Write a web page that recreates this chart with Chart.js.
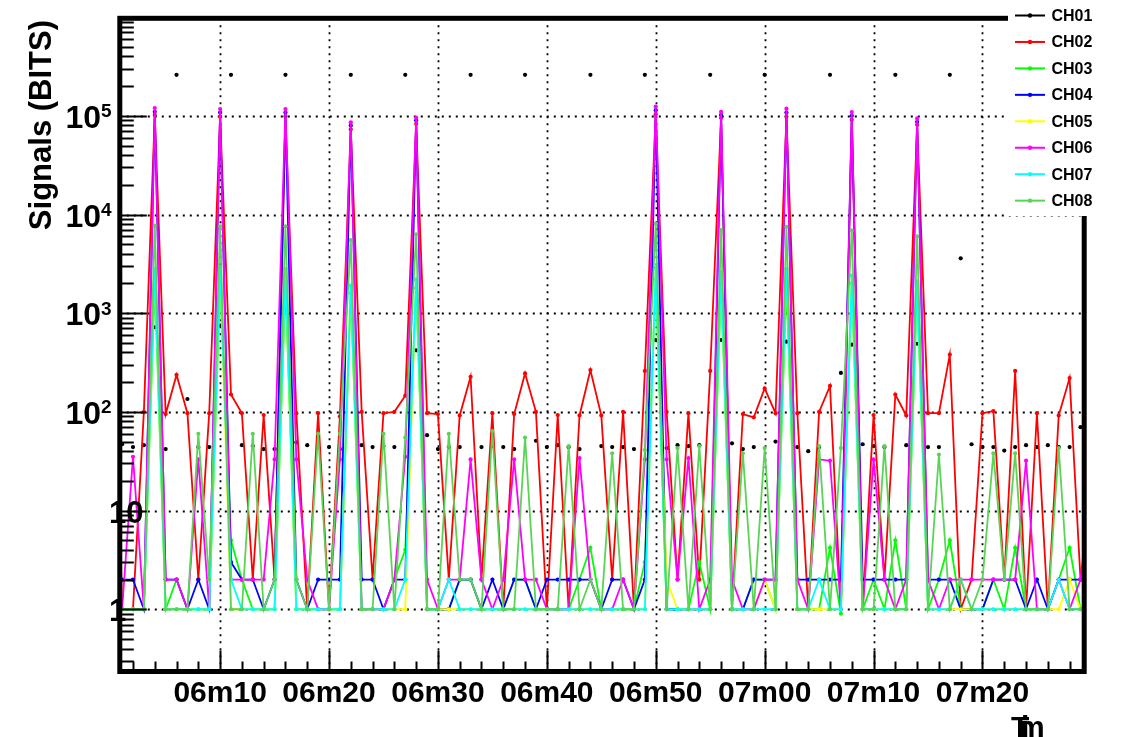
<!DOCTYPE html>
<html lang="en">

<head>
    <meta charset="UTF-8">
    <title>Signals (BITS)</title>
    <style>
        body { margin: 0; background: #ffffff; }
        #wrap { width: 1121px; height: 737px; }
    </style>
</head>

<body>

    <div id="wrap">
        <canvas id="myChart"></canvas>
    </div>

    <script src="https://cdn.jsdelivr.net/npm/chart.js"></script>
    <script>
        // minute of the day for each reading (360 = 06h00)
        const minutes = [360,
            361, 362, 363, 364, 365, 366, 367, 368, 369, 370,
            371, 372, 373, 374, 375, 376, 377, 378, 379, 380,
            381, 382, 383, 384, 385, 386, 387, 388, 389, 390,
            391, 392, 393, 394, 395, 396, 397, 398, 399, 400,
            401, 402, 403, 404, 405, 406, 407, 408, 409, 410,
            411, 412, 413, 414, 415, 416, 417, 418, 419, 420,
            421, 422, 423, 424, 425, 426, 427, 428, 429, 430,
            431, 432, 433, 434, 435, 436, 437, 438, 439, 440,
            441, 442, 443, 444, 445, 446, 447, 448, 449,
            450];

        const ch01 = [null,
            47, 44, 46, 720, 42, 2.6e5, 135, 44, 44, 750,
            2.6e5, 46, 45, 42, 42, 2.6e5, 49, 46, 44, 44,
            42, 2.6e5, 46, 44, 45, 44, 2.6e5, 420, 58, 42,
            44, 44, 2.6e5, 44, 45, 44, 42, 2.6e5, 51, 44,
            46, 44, 42, 2.6e5, 45, 44, 44, 42, 2.6e5, 535,
            43, 46, 45, 46, 2.6e5, 535, 48, 42, 44, 2.6e5,
            50, 515, 44, 40, 44, 2.6e5, 248, 480, 47, 45,
            44, 2.6e5, 46, 490, 44, 44, 2.6e5, 3600, 47, 44,
            44, 40.5, 44, 46, 44, 46, 44, 44, 70,
            null];

        const ch02 = [2e4,
            1, 1, 100, 1.02e5, 95, 237, 97, 2, 97, 9.8e4,
            150, 97, 2, 93, 2, 9.9e4, 97, 1, 97, 1,
            90, 7.3e4, 100, 2, 97, 100, 146, 8.3e4, 97, 95,
            2, 92, 227, 2, 97, 1, 95, 245, 100, 1,
            93, 1, 92, 265, 92, 2, 100, 1, 260, 1.04e5,
            100, 2, 97, 2, 260, 9.5e4, 1, 95, 88, 173,
            97, 9.8e4, 97, 1, 100, 183, 1, 9.1e4, 1, 93,
            2, 150, 92, 8.1e4, 97, 97, 380, 1, 2, 97,
            102, 2, 260, 1, 97, 1, 92, 220, 2,
            null];

        const ch03 = [10,
            1, 1, 1, 2000, 1, 2, 1, 1, 1, 2000,
            5, 2, 1, 1, 1, 2000, 1, 1, 1, 1,
            1, 1600, 1, 1, 1, 2, 4, 1800, 1, 1,
            1, 2, 2, 1, 1, 1, 2, 2, 1, 1,
            1, 1, 2, 4.2, 1, 1, 1, 1, 3, 2200,
            1, 1, 1, 3, 1, 2000, 1, 1, 2, 2,
            1, 2000, 1, 1, 1, 4.2, 0.9, 2000, 1, 2,
            1, 5, 1, 1800, 1, 2, 5, 1, 1, 1,
            2, 1, 4.2, 1, 1, 1, 2, 4.2, 1,
            null];

        const ch04 = [null,
            2, 2, 1, 1.1e5, 2, 2, 1, 2, 1, 1.08e5,
            3, 2, 2, 1, 2, 1.08e5, 2, 1, 2, 2,
            2, 8e4, 2, 2, 1, 2, 2, 9e4, 1, 1,
            1, 2, 2, 1, 2, 1, 2, 2, 1, 2,
            2, 2, 2, 2, 1, 2, 2, 1, 2, 1.14e5,
            1, 1, 1, 1, 1, 1.02e5, 1, 1, 2, 2,
            2, 1.08e5, 2, 2, 2, 2, 2, 1e5, 2, 2,
            2, 2, 2, 8.7e4, 2, 2, 2, 1, 1, 1,
            2, 2, 2, 1, 2, 1, 2, 2, 2,
            null];

        const ch05 = [null,
            1, 1, 1, 2800, 1, 1, 1, 1, 1, 2900,
            1, 1, 1, 1, 1, 2800, 1, 1, 1, 1,
            1, 1900, 1, 1, 1, 1, 1, 2200, 1, 1,
            1, 1, 1, 1, 1, 1, 1, 1, 1, 1,
            1, 1, 1, 1, 1, 1, 1, 1, 1, 2900,
            2, 1, 1, 1, 1, 2600, 1, 1, 1, 2,
            1, 2800, 1, 1, 1, 1, 1, 2400, 1, 1,
            1, 1, 1, 2100, 1, 1, 1, 1, 1, 1,
            1, 1, 1, 1, 1, 1, 1, 2, 1,
            null];

        const ch06 = [null,
            1, 35, 1, 1.2e5, 2, 2, 1, 33, 1, 1.17e5,
            2, 2, 2, 2, 33, 1.17e5, 33, 2, 1, 1,
            33, 8.6e4, 1, 1, 1, 2, 35, 9.6e4, 2, 1,
            2, 2, 33, 2, 1, 2, 33, 2, 2, 1,
            1, 1, 34, 2, 1, 1, 2, 1, 33, 1.24e5,
            33, 2, 34, 1, 2, 1.1e5, 2, 1, 1, 2,
            2, 1.18e5, 2, 1, 33, 32, 1, 1.09e5, 1, 33,
            2, 1, 2, 9.4e4, 2, 1, 2, 2, 2, 2,
            2, 2, 2, 32, 1, 1, 2, 1, 2,
            20];

        const ch07 = [null,
            1, 1, 1, 2800, 1, 1, 1, 1, 1, 2900,
            2, 1, 1, 1, 1, 2800, 1, 1, 1, 1,
            1, 1900, 1, 1, 1, 1, 2, 2200, 1, 1,
            2, 1, 1, 1, 1, 1, 1, 1, 1, 1,
            1, 1, 1, 1, 1, 1, 1, 1, 1, 2900,
            1, 1, 1, 1, 1, 2600, 1, 1, 1, 1,
            1, 2800, 1, 1, 2, 1, 1, 2400, 1, 1,
            1, 1, 1, 2100, 1, 1, 1, 2, 1, 1,
            1, 1, 1, 1, 1, 1, 2, 1, 1,
            null];

        const ch08 = [null,
            1, 1, 1, 7700, 1, 1, 1, 60, 2, 7600,
            1, 1, 60, 1, 2, 7600, 2, 1, 60, 1,
            60, 5500, 1, 1, 60, 1, 55, 6300, 1, 1,
            60, 2, 2, 1, 64, 1, 1, 55, 1, 1,
            1, 45, 1, 2, 1, 38, 1, 1, 41, 8100,
            1, 43, 1, 45, 1, 7000, 1, 38, 1, 43,
            1, 7500, 1, 1, 45, 1, 43, 6900, 1, 1,
            45, 1, 1, 6000, 1, 37, 1, 2, 1, 2,
            38, 2, 38, 1, 1, 1, 43, 1, 1,
            null];

        const v_channels = ['CH01', 'CH02', 'CH03', 'CH04', 'CH05', 'CH06', 'CH07', 'CH08'];
        const v_series = [ch01, ch02, ch03, ch04, ch05, ch06, ch07, ch08];
        const v_colors = ['#000000', '#ff0000', '#00ff00', '#0000ff', '#ffff00', '#ff00ff', '#00ffff', '#59d454'];

        // labelled time ticks and decade ticks
        const timeTicks = [370, 380, 390, 400, 410, 420, 430, 440];
        const decadeTicks = [1, 10, 100, 1000, 10000, 100000];

        const FONT = '"Liberation Sans", Arial, sans-serif';

        function f_timeLabel(m) {
            let h = Math.floor(m / 60);
            let mm = m % 60;
            return String(h).padStart(2, '0') + 'm' + String(mm).padStart(2, '0');
        }

        let v_datasets = [];
        for (let i = 0; i < v_series.length; i++) {
            let v_points = [];
            for (let k = 0; k < minutes.length; k++) {
                v_points.push({ x: minutes[k], y: v_series[i][k] });
            }
            v_datasets.push({
                label: v_channels[i],
                data: v_points,
                borderColor: v_colors[i],
                backgroundColor: v_colors[i],
                pointBackgroundColor: v_colors[i],
                borderWidth: 1.8,
                pointRadius: 2.1,
                pointBorderWidth: 0,
                showLine: i != 0,
                order: v_series.length - i   // CH08 ends up on top
            });
        }

        // axes, frame, grid and legend drawn in the old ROOT canvas style
        const rootStyle = {
            id: 'rootStyle',
            beforeDatasetsDraw(chart) {
                const ctx = chart.ctx;
                const a = chart.chartArea;
                const xs = chart.scales.x;
                const ys = chart.scales.y;
                ctx.save();
                ctx.strokeStyle = '#000';
                ctx.lineWidth = 1.8;
                ctx.setLineDash([2, 5]);
                for (const v of decadeTicks) {
                    const y = Math.round(ys.getPixelForValue(v)) + 0.5;
                    ctx.beginPath();
                    ctx.moveTo(a.left, y);
                    ctx.lineTo(a.right, y);
                    ctx.stroke();
                }
                for (const m of timeTicks) {
                    const x = Math.round(xs.getPixelForValue(m)) + 0.5;
                    ctx.beginPath();
                    ctx.moveTo(x, a.top);
                    ctx.lineTo(x, a.bottom);
                    ctx.stroke();
                }
                ctx.restore();
            },
            afterDatasetsDraw(chart) {
                const ctx = chart.ctx;
                const a = chart.chartArea;
                const xs = chart.scales.x;
                const ys = chart.scales.y;
                ctx.save();
                ctx.fillStyle = '#000';

                // "1" and "10" sit half under the frame
                ctx.font = 'bold 31px ' + FONT;
                ctx.textAlign = 'left';
                ctx.textBaseline = 'alphabetic';
                ctx.fillText('1', 109, ys.getPixelForValue(1) + 12);
                ctx.fillText('10', 109, ys.getPixelForValue(10) + 12);

                // frame
                ctx.strokeStyle = '#000';
                ctx.lineWidth = 5;
                ctx.strokeRect(a.left, a.top, a.right - a.left, a.bottom - a.top);

                // y ticks (log, inward)
                ctx.lineWidth = 2;
                for (let n = -1; n <= 5; n++) {
                    for (let d = 1; d <= 9; d++) {
                        const v = d * Math.pow(10, n);
                        if (v < ys.min || v > ys.max) continue;
                        const y = Math.round(ys.getPixelForValue(v)) + 0.5;
                        const len = d == 1 ? 27 : 14;
                        ctx.beginPath();
                        ctx.moveTo(a.left, y);
                        ctx.lineTo(a.left + len, y);
                        ctx.stroke();
                    }
                }
                // x ticks every 2 minutes, long every 10
                for (let m = 362; m <= 448; m += 2) {
                    const x = Math.round(xs.getPixelForValue(m)) + 0.5;
                    const len = m % 10 == 0 ? 21 : 10;
                    ctx.beginPath();
                    ctx.moveTo(x, a.bottom);
                    ctx.lineTo(x, a.bottom - len);
                    ctx.stroke();
                }

                // decade labels 10^2 .. 10^5
                for (let n = 2; n <= 5; n++) {
                    const y = ys.getPixelForValue(Math.pow(10, n));
                    ctx.font = 'bold 32px ' + FONT;
                    ctx.textAlign = 'right';
                    ctx.fillText('10', 101, y + 12);
                    ctx.font = 'bold 19px ' + FONT;
                    ctx.textAlign = 'left';
                    ctx.fillText(String(n), 101, y + 1.5);
                }

                // time labels
                ctx.font = 'bold 30px ' + FONT;
                ctx.textAlign = 'center';
                for (const m of timeTicks) {
                    ctx.fillText(f_timeLabel(m), xs.getPixelForValue(m), 702);
                }

                // axis titles
                ctx.save();
                ctx.translate(51, 20);
                ctx.rotate(-Math.PI / 2);
                ctx.font = 'bold 31px ' + FONT;
                ctx.textAlign = 'right';
                ctx.fillText('Signals (BITS)', 0, 0);
                ctx.restore();

                ctx.font = 'bold 30px ' + FONT;
                ctx.textAlign = 'left';
                ctx.fillText('T', 1011, 737);
                ctx.fillText('i', 1021, 737);
                ctx.fillText('m', 1018, 737);

                // legend box
                ctx.fillStyle = '#fff';
                ctx.fillRect(1008, 0, 113, 216);
                ctx.font = 'bold 16px ' + FONT;
                ctx.textBaseline = 'middle';
                ctx.lineWidth = 2;
                for (let i = 0; i < v_channels.length; i++) {
                    const y = 15.5 + 26.45 * i;
                    ctx.strokeStyle = v_colors[i];
                    ctx.beginPath();
                    ctx.moveTo(1015, y);
                    ctx.lineTo(1045, y);
                    ctx.stroke();
                    ctx.fillStyle = v_colors[i];
                    ctx.beginPath();
                    ctx.arc(1030, y, 2.2, 0, Math.PI * 2);
                    ctx.fill();
                    ctx.fillStyle = '#000';
                    ctx.fillText(v_channels[i], 1051.5, y + 1);
                }
                ctx.restore();
            }
        };

        const ctx = document.querySelector('#myChart');

        new Chart(ctx, {
            type: 'line',
            data: { datasets: v_datasets },
            options: {
                responsive: true,
                maintainAspectRatio: false,
                animation: false,
                layout: { padding: { left: 119.8, right: 36.8, top: 18.3, bottom: 65.5 } },
                elements: { line: { tension: 0 } },
                scales: {
                    x: { type: 'linear', min: 360.79, max: 449.34, display: false },
                    y: { type: 'logarithmic', min: 0.234, max: 9.73e5, display: false }
                },
                plugins: {
                    legend: { display: false },
                    tooltip: { enabled: false }
                }
            },
            plugins: [rootStyle]
        });
    </script>

</body>

</html>
